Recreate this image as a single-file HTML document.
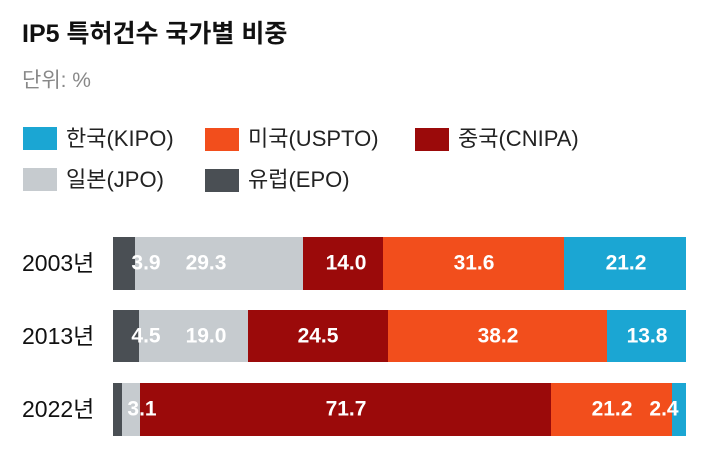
<!DOCTYPE html>
<html><head><meta charset="utf-8"><style>
body{margin:0;width:704px;height:449px;background:#fff;position:relative;overflow:hidden;font-family:"Liberation Sans","Noto Sans CJK KR",sans-serif}
.a{position:absolute}
.t{position:absolute;color:#fff;font-size:21px;font-weight:bold;transform:translate(-50%,-50%);white-space:nowrap;line-height:1}
.sw{position:absolute;width:34px;height:23px}
.lg{position:absolute;font-size:22px;color:#222;line-height:1}
.yr{position:absolute;left:22px;font-size:23px;color:#111;line-height:1}
</style></head><body>
<div class="a" style="left:22px;top:22px;font-size:25px;font-weight:bold;color:#111;line-height:1">IP5 특허건수 국가별 비중</div>
<div class="a" style="left:22px;top:70px;font-size:21px;color:#888;line-height:1">단위: %</div>
<div class="sw" style="left:23px;top:127px;background:#1ba6d3"></div><div class="lg" style="left:66px;top:128px">한국(KIPO)</div>
<div class="sw" style="left:205px;top:128px;background:#f24e1c"></div><div class="lg" style="left:248px;top:128px">미국(USPTO)</div>
<div class="sw" style="left:415px;top:128px;background:#9b0a0a"></div><div class="lg" style="left:458px;top:128px">중국(CNIPA)</div>
<div class="sw" style="left:23px;top:168px;background:#c6cbcf"></div><div class="lg" style="left:66px;top:169px">일본(JPO)</div>
<div class="sw" style="left:205px;top:169px;background:#4a4f54"></div><div class="lg" style="left:248px;top:169px">유럽(EPO)</div>

<div class="yr" style="top:252px">2003년</div>
<div class="yr" style="top:325px">2013년</div>
<div class="yr" style="top:398px">2022년</div>

<!-- 2003 -->
<div class="a" style="left:113px;top:237px;width:22px;height:53px;background:#4a4f54"></div>
<div class="a" style="left:135px;top:237px;width:168px;height:53px;background:#c6cbcf"></div>
<div class="a" style="left:303px;top:237px;width:80px;height:53px;background:#9b0a0a"></div>
<div class="a" style="left:383px;top:237px;width:181px;height:53px;background:#f24e1c"></div>
<div class="a" style="left:564px;top:237px;width:122px;height:53px;background:#1ba6d3"></div>
<div class="t" style="left:146px;top:263px">3.9</div>
<div class="t" style="left:206px;top:263px">29.3</div>
<div class="t" style="left:346px;top:263px">14.0</div>
<div class="t" style="left:474px;top:263px">31.6</div>
<div class="t" style="left:626px;top:263px">21.2</div>
<!-- 2013 -->
<div class="a" style="left:113px;top:310px;width:26px;height:52px;background:#4a4f54"></div>
<div class="a" style="left:139px;top:310px;width:109px;height:52px;background:#c6cbcf"></div>
<div class="a" style="left:248px;top:310px;width:140px;height:52px;background:#9b0a0a"></div>
<div class="a" style="left:388px;top:310px;width:219px;height:52px;background:#f24e1c"></div>
<div class="a" style="left:607px;top:310px;width:79px;height:52px;background:#1ba6d3"></div>
<div class="t" style="left:146px;top:336px">4.5</div>
<div class="t" style="left:206px;top:336px">19.0</div>
<div class="t" style="left:318px;top:336px">24.5</div>
<div class="t" style="left:498px;top:336px">38.2</div>
<div class="t" style="left:647px;top:336px">13.8</div>
<!-- 2022 -->
<div class="a" style="left:113px;top:383px;width:9px;height:53px;background:#4a4f54"></div>
<div class="a" style="left:122px;top:383px;width:18px;height:53px;background:#c6cbcf"></div>
<div class="a" style="left:140px;top:383px;width:411px;height:53px;background:#9b0a0a"></div>
<div class="a" style="left:551px;top:383px;width:121px;height:53px;background:#f24e1c"></div>
<div class="a" style="left:672px;top:383px;width:14px;height:53px;background:#1ba6d3"></div>
<div class="t" style="left:142px;top:409px">3.1</div>
<div class="t" style="left:346px;top:409px">71.7</div>
<div class="t" style="left:612px;top:409px">21.2</div>
<div class="t" style="left:664px;top:409px">2.4</div>
</body></html>
